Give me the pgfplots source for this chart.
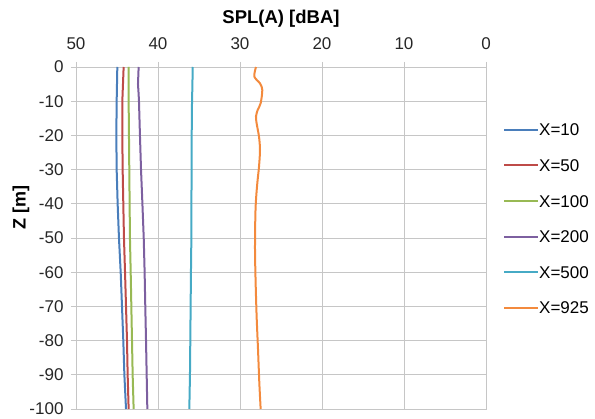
\documentclass[border=0pt]{standalone}
\usepackage{pgfplots}
\pgfplotsset{compat=1.18}
\usepackage{fontspec}
\setmainfont{Liberation Sans}
\definecolor{c1}{HTML}{4A7EBB}
\definecolor{c2}{HTML}{BE4B48}
\definecolor{c3}{HTML}{98B954}
\definecolor{c4}{HTML}{7D60A0}
\definecolor{c5}{HTML}{46AAC5}
\definecolor{c6}{HTML}{F38A3D}
\definecolor{gridc}{RGB}{198,198,198}
\begin{document}
\begin{tikzpicture}
\useasboundingbox (-76bp,-10bp) rectangle (519bp,409bp);
\begin{axis}[
  scale only axis, width=410bp, height=342bp,
  xmin=0, xmax=50, ymin=-100, ymax=0,
  x dir=reverse,
  xtick={0,10,20,30,40,50}, xticklabels={0,10,20,30,40,50},
  ytick={0,-10,-20,-30,-40,-50,-60,-70,-80,-90,-100},
  yticklabels={0,-10,-20,-30,-40,-50,-60,-70,-80,-90,-100},
  xtick pos=right, xticklabel pos=right, ytick pos=left,
  tick align=outside, major tick length=5bp,
  tick style={gridc, line width=0.8bp},
  grid=major, major grid style={gridc, line width=0.8bp},
  axis line style={gridc, line width=0.8bp},
  ticklabel style={font=\fontsize{17bp}{20bp}\selectfont, text=black!85},
  yticklabel style={xshift=-4bp},
  xticklabel style={yshift=9bp},
  title={SPL(A) [dBA]},
  title style={at={(axis description cs:0.5,1)}, anchor=center, yshift=42bp, font=\bfseries\fontsize{18.5bp}{21bp}\selectfont},
  ylabel={Z [m]},
  ylabel style={at={(axis description cs:-0.134,0.59)}, anchor=center, font=\bfseries\fontsize{18bp}{21bp}\selectfont},
  legend style={at={(1,0.556)}, anchor=west, xshift=17bp, draw=none, inner sep=0pt, row sep=23.6bp,
    font=\fontsize{17bp}{20bp}\selectfont,
    nodes={inner sep=0pt, text height=12bp, text depth=0bp, anchor=west}},
  legend cell align=left,
  /tikz/every even column/.append style={column sep=3bp},
  legend image code/.code={\draw[#1] (0bp,0bp) -- (34bp,0bp);},
  every axis plot/.append style={line width=2bp},
  clip=false,
]
\addplot[c1] coordinates {(44.96,0) (45.04,-10) (45.08,-20) (45.04,-30) (44.92,-40) (44.76,-50) (44.55,-60) (44.39,-70) (44.23,-80) (44.10,-90) (43.90,-100)};
\addlegendentry{X=10}
\addplot[c2] coordinates {(44.19,0) (44.27,-5) (44.35,-10) (44.35,-20) (44.31,-30) (44.23,-40) (44.15,-50) (44.02,-60) (43.90,-70) (43.78,-80) (43.70,-90) (43.58,-100)};
\addlegendentry{X=50}
\addplot[c3] coordinates {(43.58,0) (43.58,-10) (43.54,-20) (43.50,-30) (43.46,-40) (43.42,-50) (43.33,-60) (43.25,-70) (43.17,-80) (43.09,-90) (42.97,-100)};
\addlegendentry{X=100}
\addplot[c4] coordinates {(42.36,0) (42.44,-5) (42.36,-8) (42.32,-10) (42.20,-20) (42.07,-30) (41.90,-40) (41.74,-50) (41.63,-60) (41.55,-70) (41.46,-80) (41.38,-90) (41.30,-100)};
\addlegendentry{X=200}
\addplot[c5] coordinates {(35.77,0) (35.80,-5) (35.85,-10) (35.89,-20) (35.89,-30) (35.93,-40) (35.93,-50) (35.98,-60) (36.02,-70) (36.06,-80) (36.10,-90) (36.18,-100)};
\addlegendentry{X=500}
\addplot[c6, smooth, tension=0.5] coordinates {(28.05,0) (28.25,-2.8) (27.56,-4.8) (27.28,-6.7) (27.48,-10.6) (27.85,-12.6) (28.05,-14.5) (27.97,-16.5) (27.68,-20.4) (27.56,-24.3) (27.68,-29.1) (27.89,-34) (28.05,-38.9) (28.13,-43.8) (28.17,-53.5) (28.09,-63.3) (27.97,-73) (27.80,-82.7) (27.64,-92.5) (27.48,-100)};
\addlegendentry{X=925}
\end{axis}
\end{tikzpicture}
\end{document}
